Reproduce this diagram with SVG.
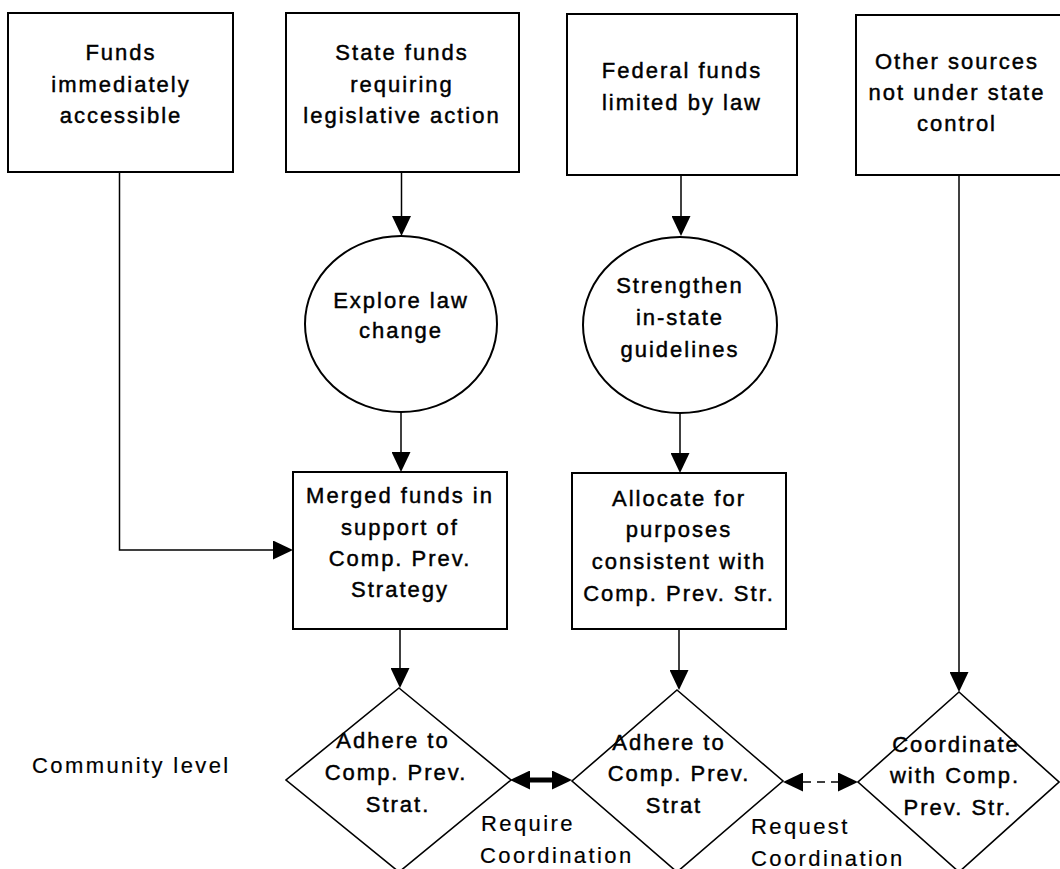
<svg xmlns="http://www.w3.org/2000/svg" width="1060" height="869" viewBox="0 0 1060 869">
<style>
.box{fill:#fff;stroke:#000;stroke-width:2}
.ell{fill:#fff;stroke:#000;stroke-width:2}
.dia{fill:#fff;stroke:#000;stroke-width:1.6}
.t{font-family:"Liberation Sans",Arial,sans-serif;font-size:22px;letter-spacing:2px;text-anchor:middle;fill:#000;stroke:#000;stroke-width:0.45}
.lab{font-family:"Liberation Sans",Arial,sans-serif;font-size:22px;letter-spacing:2.4px;fill:#000;stroke:#000;stroke-width:0.2}
.c{fill:none;stroke:#000;stroke-width:1.5}
</style>
<defs>
<marker id="ah" viewBox="0 0 20 19" refX="0" refY="9.5" markerWidth="20" markerHeight="19" markerUnits="userSpaceOnUse" orient="auto-start-reverse">
<path d="M0,0 L20,9.5 L0,19 z" fill="#000"/>
</marker>
</defs>
<rect width="1060" height="869" fill="#fff"/>

<g id="connectors">
<path class="c" d="M119.5,172 V550 H273" marker-end="url(#ah)"/>
<path class="c" d="M401.5,172 V216" marker-end="url(#ah)"/>
<path class="c" d="M401,412 V452" marker-end="url(#ah)"/>
<path class="c" d="M681,175 V216" marker-end="url(#ah)"/>
<path class="c" d="M680,413 V453" marker-end="url(#ah)"/>
<path class="c" d="M400,629 V668" marker-end="url(#ah)"/>
<path class="c" d="M679,629 V670" marker-end="url(#ah)"/>
<path class="c" d="M959,175 V672" marker-end="url(#ah)"/>
<path d="M530,780 H552" fill="none" stroke="#000" stroke-width="5" marker-start="url(#ah)" marker-end="url(#ah)"/>
<path d="M803,782 H838" fill="none" stroke="#000" stroke-width="1.5" stroke-dasharray="8,6" marker-start="url(#ah)" marker-end="url(#ah)"/>
</g>

<g id="n-funds-immediate">
<rect class="box" x="8" y="13" width="225" height="159"/>
<text class="t" x="121" y="60">Funds</text>
<text class="t" x="121" y="92">immediately</text>
<text class="t" x="121" y="123">accessible</text>
</g>

<g id="n-state-funds">
<rect class="box" x="286" y="13" width="233" height="159"/>
<text class="t" x="402" y="60">State funds</text>
<text class="t" x="402" y="92">requiring</text>
<text class="t" x="402" y="123">legislative action</text>
</g>

<g id="n-federal-funds">
<rect class="box" x="567" y="14" width="230" height="161"/>
<text class="t" x="682" y="78">Federal funds</text>
<text class="t" x="682" y="110">limited by law</text>
</g>

<g id="n-other-sources">
<rect class="box" x="856" y="15" width="210" height="160"/>
<text class="t" x="957" y="69">Other sources</text>
<text class="t" x="957" y="100">not under state</text>
<text class="t" x="957" y="131">control</text>
</g>

<g id="n-explore">
<ellipse class="ell" cx="401" cy="324" rx="96" ry="88"/>
<text class="t" x="401" y="308">Explore law</text>
<text class="t" x="401" y="338">change</text>
</g>

<g id="n-strengthen">
<ellipse class="ell" cx="680" cy="325" rx="97" ry="88"/>
<text class="t" x="680" y="293">Strengthen</text>
<text class="t" x="680" y="325">in-state</text>
<text class="t" x="680" y="357">guidelines</text>
</g>

<g id="n-merged">
<rect class="box" x="293" y="472" width="214" height="157"/>
<text class="t" x="400" y="503">Merged funds in</text>
<text class="t" x="400" y="535">support of</text>
<text class="t" x="400" y="566">Comp. Prev.</text>
<text class="t" x="400" y="597">Strategy</text>
</g>

<g id="n-allocate">
<rect class="box" x="572" y="473" width="214" height="156"/>
<text class="t" x="679" y="506">Allocate for</text>
<text class="t" x="679" y="537">purposes</text>
<text class="t" x="679" y="569">consistent with</text>
<text class="t" x="679" y="601">Comp. Prev. Str.</text>
</g>

<g id="n-adhere1">
<polygon class="dia" points="399,688 511,780 399,872 286,780"/>
<text class="t" x="393" y="748">Adhere to</text>
<text class="t" x="396" y="780">Comp. Prev.</text>
<text class="t" x="398" y="812">Strat.</text>
</g>

<g id="n-adhere2">
<polygon class="dia" points="677,690 783,781 677,872 572,781"/>
<text class="t" x="669" y="750">Adhere to</text>
<text class="t" x="679" y="781">Comp. Prev.</text>
<text class="t" x="674" y="813">Strat</text>
</g>

<g id="n-coordinate">
<polygon class="dia" points="959,692 1059,782 959,872 858,782"/>
<text class="t" x="956" y="752">Coordinate</text>
<text class="t" x="955" y="783">with Comp.</text>
<text class="t" x="958" y="815">Prev. Str.</text>
</g>

<g id="labels">
<text class="lab" x="32" y="773">Community level</text>
<text class="lab" x="481" y="831">Require</text>
<text class="lab" x="480" y="863">Coordination</text>
<text class="lab" x="751" y="834">Request</text>
<text class="lab" x="751" y="866">Coordination</text>
</g>
</svg>
